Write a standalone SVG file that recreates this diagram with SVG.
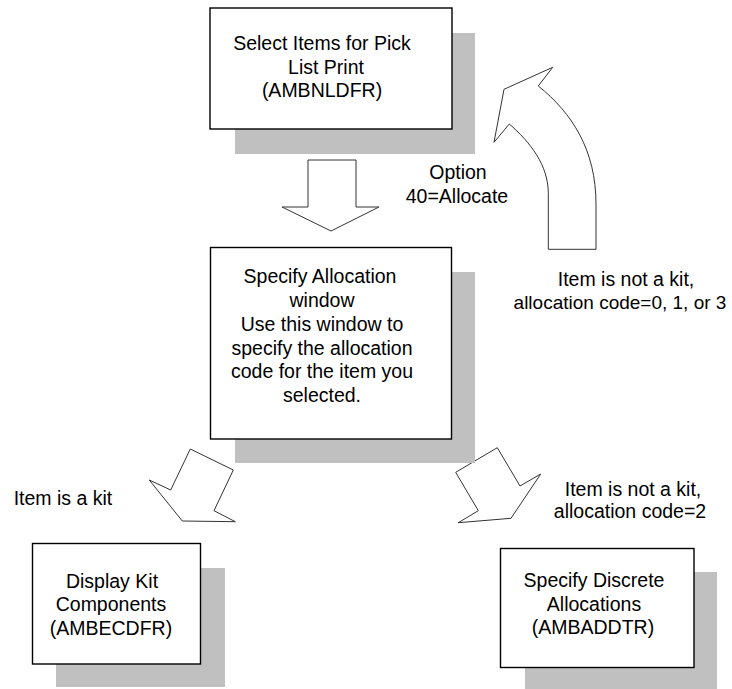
<svg xmlns="http://www.w3.org/2000/svg" width="732" height="689" viewBox="0 0 732 689">
<style>
.shadow{fill:#c0c0c0;stroke:none}
.box{fill:#fff;stroke:#000;stroke-width:1.4}
.arrow{fill:#fff;stroke:#333;stroke-width:1;stroke-linejoin:miter}
text{font-family:"Liberation Sans",Arial,sans-serif;font-size:19.5px;fill:#000;text-anchor:middle}
</style>
<rect width="732" height="689" fill="#fff"/>
<g id="connectors">
<polygon class="arrow" points="308,160 356,160 356,207 379,207 331,231 282,207 308,207"/>
<path class="arrow" d="M552.7,67.3 L504,89.3 L494,142.3 L509.3,124 C530,142 548.3,165 548.3,193.3 L548.3,249.3 L596,249.3 L596,204 C596,150 572,113 538.3,86 Z"/>
<polygon class="arrow" points="190.3,449 233.3,470 214,510.7 235.3,521.7 182.3,521 149.3,480 170.7,490"/>
<polygon class="arrow" points="497.3,447.7 520,486 540.7,474 511,518.3 458.3,522.7 478.3,510.7 455.7,472.3"/>
<text x="458" y="179">Option</text>
<text x="457" y="203">40=Allocate</text>
<text x="626" y="286">Item is not a kit,</text>
<text x="620" y="309" style="font-size:19px">allocation code=0, 1, or 3</text>
<text x="63" y="505">Item is a kit</text>
<text x="633" y="496">Item is not a kit,</text>
<text x="630" y="518">allocation code=2</text>
</g>
<g id="node-select-items">
<rect class="shadow" x="235" y="33" width="240" height="121"/>
<rect class="box" x="210" y="8" width="242" height="121"/>
<text x="322" y="50">Select Items for Pick</text>
<text x="326" y="74">List Print</text>
<text x="322" y="97">(AMBNLDFR)</text>
</g>
<g id="node-specify-allocation">
<rect class="shadow" x="235" y="272" width="240" height="191"/>
<rect class="box" x="210.5" y="247.5" width="241" height="191.5"/>
<text x="320" y="283">Specify Allocation</text>
<text x="322" y="307">window</text>
<text x="322" y="331">Use this window to</text>
<text x="322" y="355">specify the allocation</text>
<text x="322" y="378">code for the item you</text>
<text x="322" y="402">selected.</text>
</g>
<g id="node-display-kit">
<rect class="shadow" x="56" y="568" width="169" height="119"/>
<rect class="box" x="32.5" y="543.5" width="168" height="120.5"/>
<text x="112" y="588">Display Kit</text>
<text x="111" y="611">Components</text>
<text x="111" y="635">(AMBECDFR)</text>
</g>
<g id="node-discrete-allocations">
<rect class="shadow" x="525" y="572" width="192" height="117"/>
<rect class="box" x="500.5" y="548.5" width="193.5" height="119"/>
<text x="594" y="587">Specify Discrete</text>
<text x="594" y="611">Allocations</text>
<text x="593" y="634">(AMBADDTR)</text>
</g>
</svg>
